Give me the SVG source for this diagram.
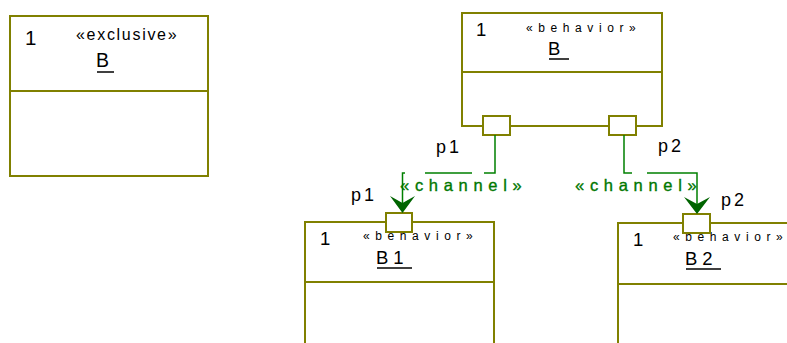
<svg xmlns="http://www.w3.org/2000/svg" width="787" height="343" viewBox="0 0 787 343">
  <style>
    .box { fill: #ffffff; stroke: #808000; stroke-width: 2; }
    .div { stroke: #808000; stroke-width: 2; }
    .port { fill: #ffffff; stroke: #808000; stroke-width: 2; }
    .t { font-family: "Liberation Sans", Arial, sans-serif; fill: #000000; }
    .mult { font-size: 18.5px; }
    .name { font-size: 18.5px; letter-spacing: 5px; }
    .stereo { font-size: 12px; letter-spacing: 5.6px; }
    .ul { stroke: #000000; stroke-width: 1.5; }
    .role { font-size: 18px; letter-spacing: 3px; }
    .conn { fill: none; stroke: #008000; stroke-width: 1.5; }
    .head { fill: #006400; }
    .chan { font-family: "Liberation Sans", Arial, sans-serif; font-size: 16.5px; letter-spacing: 5.7px; fill: #007700; stroke: #007700; stroke-width: 0.35; }
  </style>

  <!-- exclusive part B -->
  <g id="exclusive-B">
    <rect class="box" x="10" y="16" width="198" height="160"/>
    <line class="div" x1="10" y1="91" x2="208" y2="91"/>
    <text class="t" x="25" y="45" font-size="20.5">1</text>
    <text class="t" x="76" y="40" font-size="16" letter-spacing="1.7">«exclusive»</text>
    <text class="t" x="96" y="67" font-size="19.5">B</text>
    <line class="ul" x1="97" y1="72" x2="114" y2="72"/>
  </g>

  <!-- behavior part B with two ports -->
  <g id="behavior-B">
    <rect class="box" x="462" y="13" width="200" height="113"/>
    <line class="div" x1="462" y1="72" x2="662" y2="72"/>
    <text class="t mult" x="476" y="36">1</text>
    <text class="t stereo" x="526" y="32">«behavior»</text>
    <text class="t name" x="548" y="55">B</text>
    <line class="ul" x1="549" y1="59" x2="569" y2="59"/>
    <rect class="port" x="483" y="116" width="27" height="19"/>
    <rect class="port" x="609" y="116" width="27" height="19"/>
  </g>

  <!-- behavior part B1 -->
  <g id="behavior-B1">
    <rect class="box" x="305" y="222" width="189" height="140"/>
    <line class="div" x1="305" y1="282" x2="494" y2="282"/>
    <text class="t mult" x="320" y="245">1</text>
    <text class="t stereo" x="363" y="240">«behavior»</text>
    <text class="t name" x="376" y="264">B1</text>
    <line class="ul" x1="377" y1="268" x2="412" y2="268"/>
    <rect class="port" x="386" y="213" width="26" height="19"/>
  </g>

  <!-- behavior part B2 (runs past the right edge) -->
  <g id="behavior-B2">
    <rect class="box" x="618" y="223" width="200" height="140"/>
    <line class="div" x1="618" y1="284" x2="818" y2="284"/>
    <text class="t mult" x="633" y="246">1</text>
    <text class="t stereo" x="673" y="241" letter-spacing="4.5">«behavior»</text>
    <text class="t name" x="685" y="265">B2</text>
    <line class="ul" x1="686" y1="269" x2="721" y2="269"/>
    <rect class="port" x="683" y="214" width="27" height="19"/>
  </g>

  <!-- channel connectors -->
  <g id="connectors">
    <g id="channel-p1">
      <path class="conn" d="M495,135 V173 H484 M472,173 H425 M405,173 H402.5 V205"/>
      <polygon class="head" points="390,196 402.5,213 415,196 402.5,203"/>
      <text class="t role" x="436" y="153">p1</text>
      <text class="t role" x="351" y="201">p1</text>
      <text class="chan" x="400" y="191">«channel»</text>
    </g>
    <g id="channel-p2">
      <path class="conn" d="M624,135 V173 H632 M647,173 H697 V206"/>
      <polygon class="head" points="684,197 697,214 710,197 697,204"/>
      <text class="t role" x="658" y="152">p2</text>
      <text class="t role" x="721" y="206">p2</text>
      <text class="chan" x="575" y="191">«channel»</text>
    </g>
  </g>
</svg>
